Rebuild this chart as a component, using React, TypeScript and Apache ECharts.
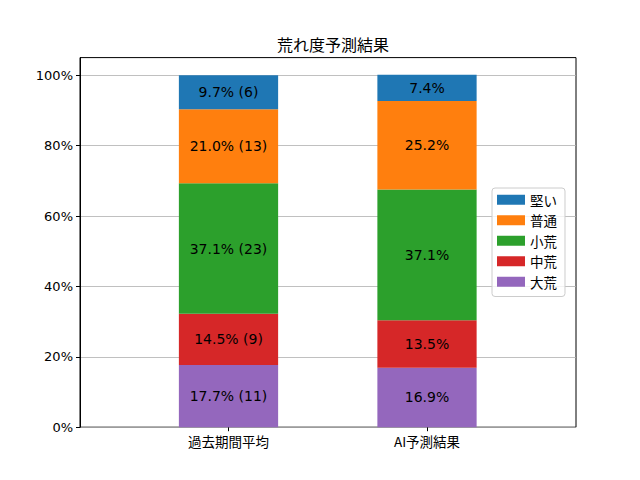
import React, { useEffect, useRef } from "react";
import * as echarts from "echarts";

const categories = ["過去期間平均", "AI予測結果"];
const levels = ["大荒", "中荒", "小荒", "普通", "堅い"];
const colors = ["#9467bd", "#d62728", "#2ca02c", "#ff7f0e", "#1f77b4"];
// percent values per level, for [past, ai]
const pastPct = [17.7, 14.5, 37.1, 21.0, 9.7];
const pastCount = [11, 9, 23, 13, 6];
const aiPct = [16.9, 13.5, 37.1, 25.2, 7.4];
const yTicks = [0, 20, 40, 60, 80, 100];
const legendOrder = ["堅い", "普通", "小荒", "中荒", "大荒"];

const FONT = "'DejaVu Sans', 'Noto Sans CJK JP', sans-serif";
const JFONT = "'Noto Sans CJK JP', sans-serif";

export default function App() {
  const ref = useRef<HTMLDivElement>(null);
  useEffect(() => {
    document.body.style.margin = "0";
    const chart = echarts.init(ref.current!, undefined, { renderer: "svg" });
    const series = levels.map((name, i) => ({
      name,
      type: "bar",
      stack: "total",
      xAxisIndex: 1,
      yAxisIndex: 1,
      barWidth: "50%",
      itemStyle: { color: colors[i] },
      label: {
        show: true,
        position: "inside",
        color: "#000",
        fontSize: 14,
        fontFamily: FONT,
        formatter: (p: any) => p.data.text,
      },
      data: [
        { value: pastPct[i], text: `${pastPct[i].toFixed(1)}% (${pastCount[i]})` },
        { value: aiPct[i], text: `${aiPct[i].toFixed(1)}%` },
      ],
    }));
    chart.setOption({
      animation: false,
      textStyle: { fontFamily: FONT },
      title: {
        text: "荒れ度予測結果",
        left: 328,
        top: 31,
        textAlign: "center",
        textStyle: { fontSize: 16, fontWeight: "normal", color: "#000", fontFamily: JFONT },
      },
      grid: [
        {
          left: 80,
          right: 64,
          top: 57.6,
          bottom: 52.8,
          show: true,
          borderColor: "#000",
          borderWidth: 1,
          backgroundColor: "transparent",
        },
        {
          left: 129.25,
          right: 113.75,
          top: 57.6,
          bottom: 52.8,
        },
      ],
      legend: {
        orient: "vertical",
        left: 492,
        top: 188,
        data: legendOrder,
        icon: "rect",
        itemWidth: 28,
        itemHeight: 10,
        itemGap: 7,
        padding: [5, 8, 8, 5],
        borderColor: "#cccccc",
        borderWidth: 1,
        borderRadius: 3,
        backgroundColor: "rgba(255,255,255,0.8)",
        textStyle: { fontSize: 13.5, color: "#000", fontFamily: JFONT },
      },
      xAxis: [
        {
          type: "value",
          gridIndex: 0,
          min: 0,
          max: 1,
          axisLine: { show: false },
          axisTick: { show: false },
          axisLabel: { show: false },
          splitLine: { show: false },
        },
        {
          type: "category",
          gridIndex: 1,
          data: categories,
          axisLine: { show: false },
          axisTick: { show: true, alignWithLabel: true, length: 4, lineStyle: { color: "#000" } },
          axisLabel: { margin: 7, fontSize: 13.5, color: "#000", fontFamily: JFONT },
          splitLine: { show: false },
        },
      ],
      yAxis: [
        {
          type: "value",
          gridIndex: 0,
          min: 0,
          max: 105,
          interval: 20,
          axisLine: { show: true, onZero: false, lineStyle: { color: "#000", width: 1 } },
          axisTick: { show: true, length: 4, lineStyle: { color: "#000" }, customValues: yTicks },
          axisLabel: {
            customValues: yTicks,
            margin: 7,
            fontSize: 13,
            color: "#000",
            fontFamily: FONT,
            formatter: (v: number) => (v > 100 ? "" : `${v}%`),
          },
          splitLine: { show: true, lineStyle: { color: "#b0b0b0", width: 0.8 } },
        },
        {
          type: "value",
          gridIndex: 1,
          min: 0,
          max: 105,
          axisLine: { show: false },
          axisTick: { show: false },
          axisLabel: { show: false },
          splitLine: { show: false },
        },
      ],
      series,
    });
    return () => chart.dispose();
  }, []);
  return <div ref={ref} style={{ width: 640, height: 480 }} />;
}
